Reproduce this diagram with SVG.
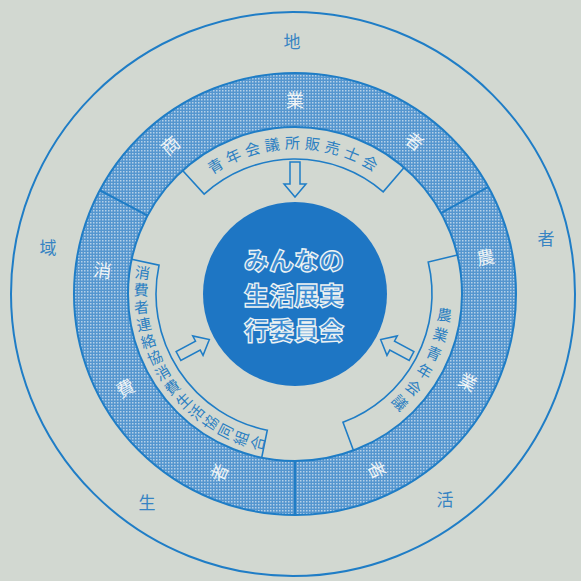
<svg xmlns="http://www.w3.org/2000/svg" width="581" height="581" viewBox="0 0 581 581">
<style>
.ln{fill:none;stroke:#1f7dc6;stroke-width:2}
.bx{fill:none;stroke:#1f7dc6;stroke-width:1.6;stroke-linejoin:miter}
.jp{font-family:"Noto Sans CJK JP","Noto Sans CJK SC",sans-serif}
.outer{font-size:17px;fill:#3784c3;text-anchor:middle}
.ringt{font-size:18px;fill:#eef3f5}
.boxt{font-size:15px;fill:#2b7fc2}
.ctr{font-size:25px;font-weight:900;fill:#3b8bd2;stroke:#eef3f3;stroke-width:1.3;text-anchor:middle}
.arr{fill:#d2d8d1;stroke:#1f7dc6;stroke-width:1.5;stroke-linejoin:miter}
</style>
<defs>
<pattern id="dots" patternUnits="userSpaceOnUse" width="3" height="3">
<rect width="3" height="3" fill="#5596cf"/>
<rect width="1.5" height="1.5" fill="#b5d0e8"/>
</pattern>
<polygon id="arrow" points="-5,-35 5,-35 5,-13 11,-13 0,0 -11,-13 -5,-13"/>
</defs>
<rect width="581" height="581" fill="#d2d8d1"/>

<g id="outer-circle">
<circle class="ln" cx="293" cy="294" r="282"/>
<text class="jp outer" x="292" y="48">地</text>
<text class="jp outer" x="48" y="254">域</text>
<text class="jp outer" x="147" y="509">生</text>
<text class="jp outer" x="445" y="506">活</text>
<text class="jp outer" x="546" y="245">者</text>
</g>

<g id="ring">
<path d="M295,73 A221,221 0 1 1 294.99,73 Z M295,127 A167,167 0 1 0 295.01,127 Z" fill="url(#dots)" fill-rule="evenodd"/>
<circle class="ln" cx="295" cy="294" r="221"/>
<circle class="ln" cx="295" cy="294" r="167"/>
<line class="ln" x1="147.55" y1="215.6" x2="99.87" y2="190.25"/>
<line class="ln" x1="441.06" y1="213.04" x2="488.29" y2="186.86"/>
<line class="ln" x1="295" y1="461" x2="295" y2="515"/>
</g>

<g id="seg-commerce">
<text class="jp ringt" x="167.8" y="156.42" rotate="-40">商</text>
<text class="jp ringt" x="286" y="106.84">業</text>
<text class="jp ringt" x="403.14" y="140.98" rotate="38">者</text>
</g>
<g id="seg-farmer">
<text class="jp ringt" x="477.91" y="265.41" rotate="-11">農</text>
<text class="jp ringt" x="456.74" y="384.08" rotate="27">業</text>
<text class="jp ringt" x="366.99" y="464.55" rotate="65">者</text>
</g>
<g id="seg-consumer">
<text class="jp ringt" x="92.68" y="276.05" rotate="7">消</text>
<text class="jp ringt" x="120.76" y="398.4" rotate="-29">費</text>
<text class="jp ringt" x="221.98" y="483.54" rotate="-67">者</text>
</g>

<g id="box-top">
<path class="bx" d="M182.61,170.48 L204.14,194.15 A135,135 0 0 1 383.21,191.8 L404.12,167.58"/>
<text class="jp boxt" x="212.06 228.82 246.78 265.61 284.96 304.51 323.87 342.72 360.7" y="174.47 164.43 156.73 151.51 148.85 148.82 151.4 156.55 164.19" rotate="-31.8 -24.1 -16.4 -8.7 -1 6.7 14.4 22.1 29.8">青年会議所販売士会</text>
</g>

<g id="box-right">
<path class="bx" d="M457.39,255.01 L428.21,262.02 A137,137 0 0 1 342.98,422.32 L353.49,450.42"/>
<text class="jp boxt" x="436.31 431.68 424.65 415.34 403.92 390.58" y="319.62 338.08 355.77 372.38 387.6 401.19" rotate="8 15.6 23.2 30.8 38.4 46">農業青年会議</text>
</g>

<g id="box-left">
<path class="bx" d="M131.65,259.28 L159.04,265.1 A139,139 0 0 0 267.29,430.21 L261.71,457.65"/>
<text class="jp boxt" x="134.28 133.41 134.59 137.8 143.02 150.15" y="277.17 295.36 313.53 331.46 348.94 365.68" rotate="8 1.54 -4.92 -11.38 -17.85 -24.31">消費者連絡協</text>
<text class="jp boxt" x="159.15 169.89 182.18 195.92 210.89 226.97 243.89 261.46" y="381.52 396.29 409.7 421.67 431.99 440.58 447.31 452.09" rotate="-30.77 -37.23 -43.69 -50.15 -56.62 -63.08 -69.54 -76">消費生活協同組合</text>
</g>

<g id="center">
<circle cx="295" cy="294" r="92" fill="#1e76c4"/>
<text class="jp ctr" x="294" y="270">みんなの</text>
<text class="jp ctr" x="294" y="305">生活展実</text>
<text class="jp ctr" x="294" y="340">行委員会</text>
</g>

<g id="connectors">
<use href="#arrow" class="arr" transform="translate(295,294) rotate(0) translate(0,-97)"/>
<use href="#arrow" class="arr" transform="translate(295,294) rotate(118) translate(0,-97)"/>
<use href="#arrow" class="arr" transform="translate(295,294) rotate(242) translate(0,-97)"/>
</g>
</svg>
